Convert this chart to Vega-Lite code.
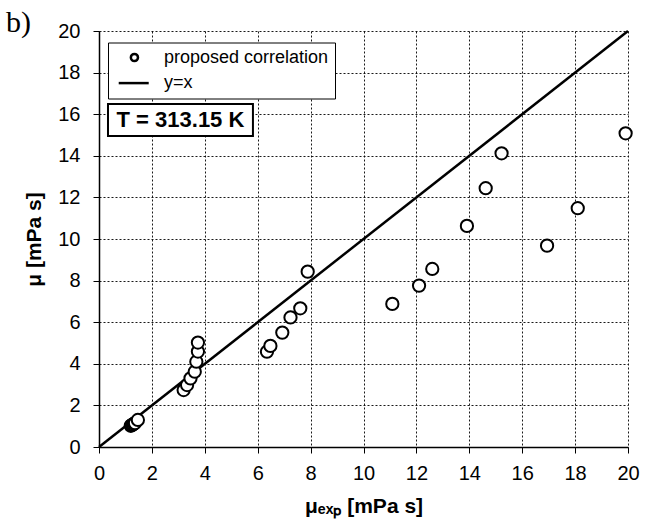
{
  "$schema": "https://vega.github.io/schema/vega-lite/v6.json",
  "width": 529,
  "height": 416,
  "autosize": {"type": "none"},
  "padding": {"left": 99, "top": 31, "right": 18, "bottom": 73},
  "background": "white",
  "title": {"text": "b)", "anchor": "start", "frame": "group", "font": "Liberation Serif", "fontSize": 30, "fontWeight": "normal", "color": "black", "dx": -93, "offset": -17},
  "config": {
    "view": {"stroke": null},
    "axis": {
      "labelFont": "Liberation Sans", "labelFontSize": 20, "labelColor": "black",
      "titleFont": "Liberation Sans", "titleFontSize": 21, "titleFontWeight": "bold", "titleColor": "black",
      "domainColor": "black", "domainWidth": 1.5,
      "tickColor": "black", "tickSize": 6, "tickWidth": 1,
      "gridColor": "black", "gridDash": [2, 2], "gridWidth": 1, "gridOpacity": 0.9,
      "labelFlush": false, "labelOverlap": false
    },
    "legend": {
      "orient": "none", "legendX": 9, "legendY": 11.5,
      "strokeColor": "black", "fillColor": "white", "padding": 6,
      "labelLimit": 0, "labelOffset": 32,
      "labelFont": "Liberation Sans", "labelFontSize": 18, "labelColor": "black",
      "rowPadding": 7.6
    }
  },
  "datasets": {
    "points": [
      {"mu_exp": 1.20, "mu": 1.02},
      {"mu_exp": 1.24, "mu": 1.05},
      {"mu_exp": 1.28, "mu": 1.08},
      {"mu_exp": 1.32, "mu": 1.12},
      {"mu_exp": 1.36, "mu": 1.15},
      {"mu_exp": 1.47, "mu": 1.30},
      {"mu_exp": 3.20, "mu": 2.74},
      {"mu_exp": 3.33, "mu": 2.98},
      {"mu_exp": 3.46, "mu": 3.30},
      {"mu_exp": 3.62, "mu": 3.62},
      {"mu_exp": 3.68, "mu": 4.10},
      {"mu_exp": 3.74, "mu": 4.59},
      {"mu_exp": 3.74, "mu": 5.02},
      {"mu_exp": 6.35, "mu": 4.58},
      {"mu_exp": 6.48, "mu": 4.86},
      {"mu_exp": 6.93, "mu": 5.50},
      {"mu_exp": 7.24, "mu": 6.23},
      {"mu_exp": 7.61, "mu": 6.67},
      {"mu_exp": 7.89, "mu": 8.43},
      {"mu_exp": 11.09, "mu": 6.88},
      {"mu_exp": 12.10, "mu": 7.76},
      {"mu_exp": 12.60, "mu": 8.56},
      {"mu_exp": 13.91, "mu": 10.63},
      {"mu_exp": 14.62, "mu": 12.44},
      {"mu_exp": 15.22, "mu": 14.12},
      {"mu_exp": 16.94, "mu": 9.68},
      {"mu_exp": 18.10, "mu": 11.48},
      {"mu_exp": 19.91, "mu": 15.08}
    ],
    "identity": [{"mu_exp": 0, "mu": 0}, {"mu_exp": 20, "mu": 20}],
    "note": [{"label": "T = 313.15 K"}]
  },
  "layer": [
    {
      "data": {"name": "identity"},
      "mark": {"type": "line", "color": "black", "strokeWidth": 2.5},
      "encoding": {
        "x": {"field": "mu_exp", "type": "quantitative", "scale": {"domain": [0, 20], "nice": false},
              "axis": {"values": [0, 2, 4, 6, 8, 10, 12, 14, 16, 18, 20], "format": "d", "title": "μₑₓₚ [mPa s]", "labelPadding": 10, "titlePadding": 12}},
        "y": {"field": "mu", "type": "quantitative", "scale": {"domain": [0, 20], "nice": false},
              "axis": {"values": [0, 2, 4, 6, 8, 10, 12, 14, 16, 18, 20], "format": "d", "title": "μ [mPa s]", "labelPadding": 13, "titlePadding": 13}}
      }
    },
    {
      "data": {"name": "points"},
      "mark": {"type": "point", "shape": "circle", "filled": false, "fill": "white", "fillOpacity": 1, "color": "black", "strokeWidth": 2, "size": 150},
      "encoding": {
        "x": {"field": "mu_exp", "type": "quantitative"},
        "y": {"field": "mu", "type": "quantitative"}
      }
    },
    {
      "data": {"name": "note"},
      "mark": {"type": "point", "filled": false, "fill": "white", "fillOpacity": 1, "color": "black", "strokeWidth": 2.5, "size": 196},
      "encoding": {
        "x": {"datum": 5, "type": "quantitative"},
        "y": {"datum": 18.5, "type": "quantitative"},
        "shape": {"datum": "proposed correlation", "type": "nominal",
                  "scale": {"domain": ["proposed correlation", "y=x"], "range": ["M3,0A0.714,0.714 0 1,1 1.572,0A0.714,0.714 0 1,1 3,0Z", "M-0.857,0H5.143"]},
                  "legend": {"title": null, "symbolStrokeWidth": 2.5}}
      }
    },
    {
      "data": {"name": "note"},
      "mark": {"type": "rect", "fill": "white", "stroke": "black", "strokeWidth": 2},
      "encoding": {
        "x": {"datum": 0.34, "type": "quantitative"},
        "x2": {"datum": 5.82},
        "y": {"datum": 16.49, "type": "quantitative"},
        "y2": {"datum": 14.95}
      }
    },
    {
      "data": {"name": "note"},
      "mark": {"type": "text", "font": "Liberation Sans", "fontWeight": "bold", "fontSize": 22, "color": "black", "align": "center", "baseline": "middle"},
      "encoding": {
        "x": {"datum": 3.08, "type": "quantitative"},
        "y": {"datum": 15.72, "type": "quantitative"},
        "text": {"field": "label"}
      }
    }
  ]
}
